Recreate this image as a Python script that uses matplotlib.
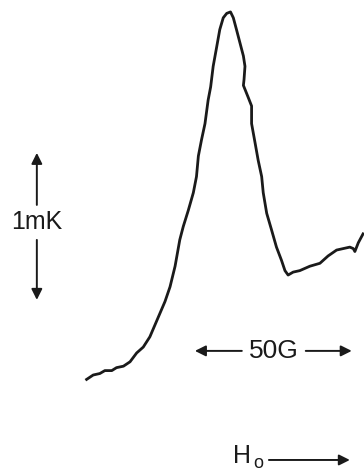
import matplotlib
matplotlib.use("Agg")
import matplotlib.pyplot as plt

# field (G) and signal (mK)
field = [0.2, 2.3, 4.4, 6.0, 8.2, 9.7, 11.9, 14.0, 16.1, 18.2, 20.3, 21.9, 23.5,
         25.1, 26.7, 28.3, 29.8, 30.9, 32.5, 34.1, 35.1, 35.7, 36.7, 37.8, 38.8,
         39.6, 40.4, 41.5, 42.5, 43.6, 44.7, 45.9, 46.8, 47.8, 48.9, 50.0, 50.5,
         50.2, 50.0, 51.5, 52.6, 52.6, 53.7, 54.7, 55.8, 56.3, 57.4, 58.9, 60.5,
         62.1, 63.2, 64.2, 65.8, 67.9, 71.1, 74.3, 76.9, 79.6, 81.7, 83.8, 84.9,
         85.4, 86.5, 88.0]
signal = [-0.01, 0.02, 0.03, 0.05, 0.05, 0.07, 0.08, 0.11, 0.17, 0.21, 0.28, 0.36, 0.44,
          0.52, 0.62, 0.76, 0.94, 1.03, 1.14, 1.26, 1.37, 1.51, 1.62, 1.73, 1.89,
          1.98, 2.12, 2.25, 2.37, 2.45, 2.48, 2.49, 2.45, 2.37, 2.28, 2.19, 2.12,
          2.03, 1.99, 1.91, 1.85, 1.73, 1.60, 1.48, 1.37, 1.26, 1.12, 1.01, 0.89,
          0.80, 0.73, 0.70, 0.72, 0.73, 0.76, 0.78, 0.83, 0.87, 0.88, 0.89, 0.88,
          0.86, 0.92, 0.98]

plt.rcParams['font.family'] = ['Liberation Sans', 'DejaVu Sans']

fig = plt.figure(figsize=(3.64, 4.71), dpi=100)
ax = fig.add_axes([0, 0, 1, 1])
ax.set_xlim(-27.3, 88.3)
ax.set_ylim(-0.633, 2.571)
ax.axis('off')

ax.plot(field, signal, color='#1a1a1a', lw=2.0, solid_joinstyle='round')

arrow = dict(arrowstyle='-|>', lw=1.4, color='#1a1a1a', mutation_scale=16,
             shrinkA=0, shrinkB=0)

# 1 mK scale bar
ax.annotate('', xy=(-15.6, 1.531), xytext=(-15.6, 1.177), arrowprops=arrow)
ax.annotate('', xy=(-15.6, 0.531), xytext=(-15.6, 0.939), arrowprops=arrow)
ax.text(-15.6, 1.061, '1mK', ha='center', va='center', fontsize=18, color='#1a1a1a')

# 50 G scale bar
ax.annotate('', xy=(34.6, 0.184), xytext=(49.5, 0.184), arrowprops=arrow)
ax.annotate('', xy=(84.4, 0.184), xytext=(69.8, 0.184), arrowprops=arrow)
ax.text(59.7, 0.184, '50G', ha='center', va='center', fontsize=19, color='#1a1a1a')

# field direction
ax.annotate('', xy=(83.8, -0.558), xytext=(58.1, -0.558), arrowprops=arrow)
ax.text(46.7, -0.530, 'H', ha='left', va='center', fontsize=18, color='#1a1a1a')
ax.text(54.6, -0.585, 'o', ha='center', va='center', fontsize=13, color='#1a1a1a')

fig.savefig('out.png', dpi=100)
